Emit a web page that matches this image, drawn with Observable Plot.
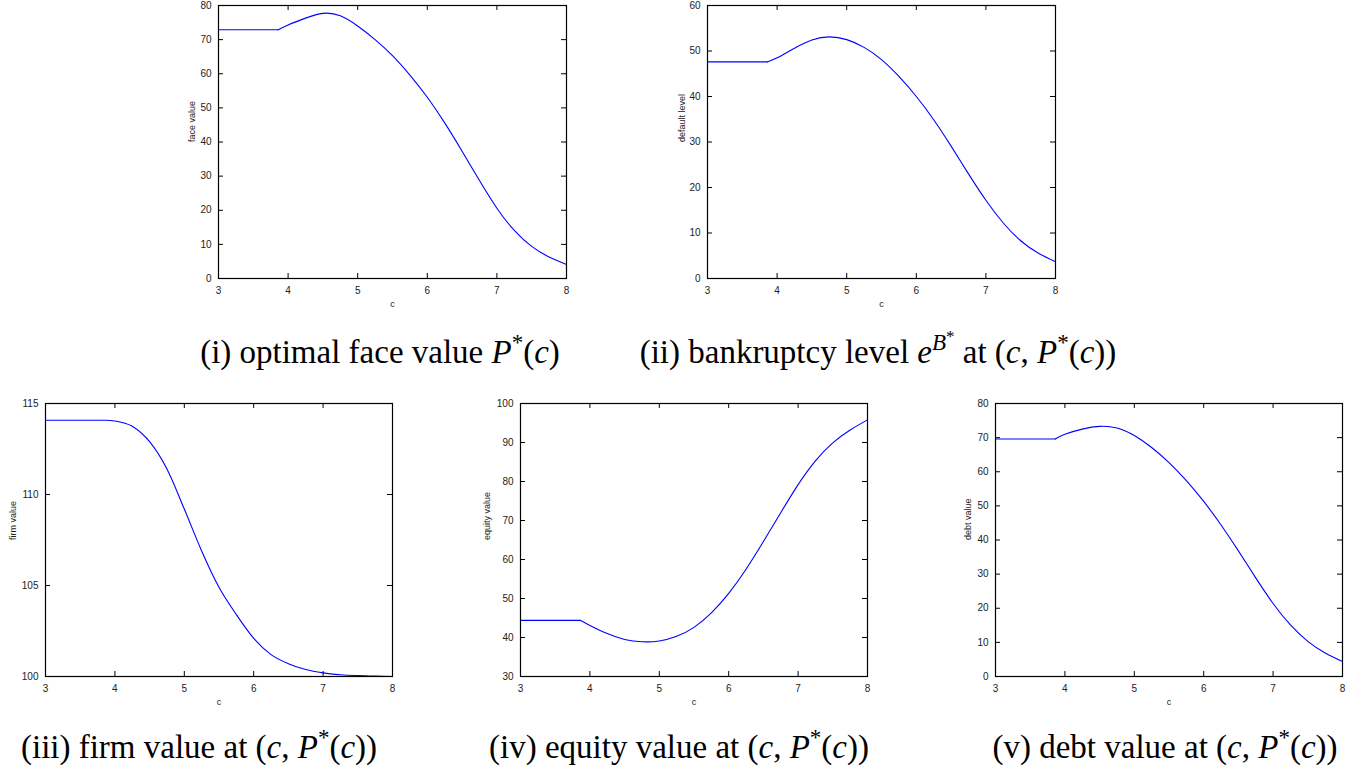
<!DOCTYPE html>
<html>
<head>
<meta charset="utf-8">
<script src="https://cdn.jsdelivr.net/npm/d3@7"></script>
<script src="https://cdn.jsdelivr.net/npm/@observablehq/plot@0.6"></script>
<style>
  html, body { margin: 0; padding: 0; background: #fff; }
  #root { position: relative; width: 1369px; height: 773px; overflow: hidden; background: #fff; }
</style>
</head>
<body>
<div id="root"></div>
<script>
// ---- data ----
const cValues = [3, 3.86, 4, 4.25, 4.5, 4.75, 5, 5.25, 5.5, 5.75, 6, 6.25, 6.5, 6.75, 7, 7.25, 7.5, 7.75, 8];
const kinkC = 3.86;
const xTicks = [3, 4, 5, 6, 7, 8];

const faceValue    = [72.9, 72.9, 74.3, 76.3, 77.7, 77.0, 74.0, 70.0, 65.3, 59.6, 53.1, 45.6, 37.3, 28.7, 20.6, 14.1, 9.4, 6.3, 4.1];
const defaultLevel = [47.6, 47.6, 48.5, 50.6, 52.4, 53.1, 52.5, 50.8, 48.1, 44.4, 40.0, 34.9, 29.1, 23.0, 17.2, 12.2, 8.3, 5.6, 3.7];
const firmValue    = [114.08, 114.08, 114.04, 113.75, 112.9, 111.4, 109.2, 106.9, 104.9, 103.4, 102.1, 101.2, 100.7, 100.38, 100.2, 100.1, 100.05, 100.02, 100.0];
const equityValue  = [44.4, 44.4, 43.1, 41.0, 39.5, 38.9, 39.1, 40.3, 42.6, 46.3, 51.3, 57.5, 64.6, 72.0, 79.2, 85.3, 89.9, 93.2, 95.8];
const debtValue    = [69.6, 69.6, 71.0, 72.5, 73.3, 72.8, 70.6, 67.1, 62.7, 57.4, 51.3, 44.4, 36.8, 28.9, 21.4, 15.1, 10.3, 6.9, 4.4];

const ticksFace    = [0, 10, 20, 30, 40, 50, 60, 70, 80];
const ticksDefault = [0, 10, 20, 30, 40, 50, 60];
const ticksFirm    = [100, 105, 110, 115];
const ticksEquity  = [30, 40, 50, 60, 70, 80, 90, 100];
const ticksDebt    = [0, 10, 20, 30, 40, 50, 60, 70, 80];

const xLabel = "c";
const yLabels = ["face value", "default level", "firm value", "equity value", "debt value"];

// ---- drawing ----
const root = document.getElementById("root");

function panel({values, domain, yTicks, yLabel, x0, x1, y0, y1, yLabelDx, split}) {
  const ml = Math.min(60, x0), mt = 5, mr = 15, mb = 45;
  const fw = x1 - x0, fh = y1 - y0;
  const width = fw + ml + mr, height = fh + mt + mb;
  const data = cValues.map((c, i) => ({c, v: values[i]}));
  const lineStyle = {x: "c", y: "v", stroke: "#0000ff", strokeWidth: 1.1};
  const lineMarks = split
    ? [
        Plot.line(data.filter(d => d.c <= kinkC), lineStyle),
        Plot.line(data.filter(d => d.c >= kinkC), {...lineStyle, curve: "natural"})
      ]
    : [Plot.line(data, {...lineStyle, curve: "monotone-x"})];
  const svg = Plot.plot({
    width, height,
    marginLeft: ml, marginRight: mr, marginTop: mt, marginBottom: mb,
    x: {domain: [3, 8]},
    y: {domain},
    style: {fontFamily: "'Liberation Sans', Arial, sans-serif", fontSize: "10px", color: "#222", background: "none", overflow: "visible"},
    marks: [
      ...lineMarks,
      // inward ticks on all four sides
      Plot.tickY(yTicks, {y: d => d, insetRight: fw - 5, stroke: "black"}),
      Plot.tickY(yTicks, {y: d => d, insetLeft: fw - 5, stroke: "black"}),
      Plot.tickX(xTicks, {x: d => d, insetTop: fh - 5, stroke: "black"}),
      Plot.tickX(xTicks, {x: d => d, insetBottom: fh - 5, stroke: "black"}),
      Plot.axisX({ticks: xTicks, tickSize: 0, tickPadding: 8, label: null, tickFormat: d => String(d)}),
      Plot.axisY({ticks: yTicks, tickSize: 0, tickPadding: 7, label: null, tickFormat: d => String(d)}),
      Plot.text([xLabel], {text: d => d, frameAnchor: "bottom", dy: 28, fontSize: 9, fill: "#222"}),
      Plot.text([yLabel], {text: d => d, frameAnchor: "left", dx: -yLabelDx, rotate: -90, fontSize: 9, fill: "#222"}),
      Plot.frame({stroke: "black", strokeWidth: 1.2})
    ]
  });
  svg.style.position = "absolute";
  svg.style.left = (x0 - ml) + "px";
  svg.style.top = (y0 - mt) + "px";
  root.appendChild(svg);
}

panel({values: faceValue,    domain: [0, 80],    yTicks: ticksFace,    yLabel: yLabels[0], x0: 218, x1: 566,  y0: 5,   y1: 278, yLabelDx: 26, split: true});
panel({values: defaultLevel, domain: [0, 60],    yTicks: ticksDefault, yLabel: yLabels[1], x0: 707, x1: 1055, y0: 5,   y1: 278, yLabelDx: 25, split: true});
panel({values: firmValue,    domain: [100, 115], yTicks: ticksFirm,    yLabel: yLabels[2], x0: 45,  x1: 392,  y0: 403, y1: 676, yLabelDx: 32, split: false});
panel({values: equityValue,  domain: [30, 100],  yTicks: ticksEquity,  yLabel: yLabels[3], x0: 520, x1: 867,  y0: 403, y1: 676, yLabelDx: 33, split: true});
panel({values: debtValue,    domain: [0, 80],    yTicks: ticksDebt,    yLabel: yLabels[4], x0: 995, x1: 1342, y0: 403, y1: 676, yLabelDx: 27, split: true});

// ---- captions (sub-figure titles) ----
const captions = [
  {cx: 380, base: 363, parts: [["(i) optimal face value ", 0], ["P", 0, true], ["*", 1], ["(", 0], ["c", 0, true], [")", 0]]},
  {cx: 878, base: 363, parts: [["(ii) bankruptcy level ", 0], ["e", 0, true], ["B", 1, true], ["*", 2], [" at (", 0], ["c", 0, true], [", ", 0], ["P", 0, true], ["*", 1], ["(", 0], ["c", 0, true], ["))", 0]]},
  {cx: 199, base: 758, parts: [["(iii) firm value at (", 0], ["c", 0, true], [", ", 0], ["P", 0, true], ["*", 1], ["(", 0], ["c", 0, true], ["))", 0]]},
  {cx: 679, base: 758, parts: [["(iv) equity value at (", 0], ["c", 0, true], [", ", 0], ["P", 0, true], ["*", 1], ["(", 0], ["c", 0, true], ["))", 0]]},
  {cx: 1165, base: 758, parts: [["(v) debt value at (", 0], ["c", 0, true], [", ", 0], ["P", 0, true], ["*", 1], ["(", 0], ["c", 0, true], ["))", 0]]}
];
const capFont = 33;
const levelShift = [0, -13, -21];
const levelSize = [capFont, 23, 17];
const cap = d3.create("svg")
  .attr("width", 1369).attr("height", 773)
  .style("position", "absolute").style("left", "0px").style("top", "0px")
  .style("pointer-events", "none");
for (const c of captions) {
  const t = cap.append("text")
    .attr("x", c.cx).attr("y", c.base)
    .attr("text-anchor", "middle")
    .attr("font-family", "'Liberation Serif', 'Times New Roman', serif")
    .attr("font-size", capFont)
    .attr("fill", "#000");
  let level = 0;
  for (const [str, lv, ital] of c.parts) {
    const dy = levelShift[lv] - levelShift[level];
    level = lv;
    const s = t.append("tspan").text(str).attr("font-size", levelSize[lv]);
    if (dy) s.attr("dy", dy);
    if (ital) s.attr("font-style", "italic");
  }
}
root.appendChild(cap.node());
</script>
</body>
</html>
